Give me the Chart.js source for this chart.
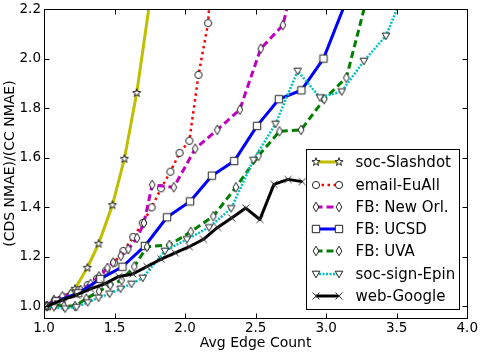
<!DOCTYPE html>
<html>
<head>
  <meta charset="utf-8">
  <title>CDS vs CC NMAE</title>
  <script src="https://cdn.jsdelivr.net/npm/chart.js"></script>
  <style>
    html, body { margin: 0; padding: 0; background: #fff; }
    #wrap { width: 482px; height: 354px; }
  </style>
</head>
<body>
  <div id="wrap"><canvas id="chart" width="482" height="354"></canvas></div>
  <script>
    // values
    var xTicks = [1.0, 1.5, 2.0, 2.5, 3.0, 3.5, 4.0];
    var yTicks = [1.0, 1.2, 1.4, 1.6, 1.8, 2.0, 2.2];

    var seriesNames = ['soc-Slashdot', 'email-EuAll', 'FB: New Orl.', 'FB: UCSD', 'FB: UVA', 'soc-sign-Epin', 'web-Google'];

    var slashdotX = [1.02, 1.13, 1.22, 1.307, 1.387, 1.485, 1.57, 1.657, 1.755];
    var slashdotY = [1.0, 1.03, 1.07, 1.155, 1.252, 1.408, 1.595, 1.861, 2.25];

    var emailX = [1.02, 1.08, 1.14, 1.2, 1.25, 1.31, 1.375, 1.44, 1.497, 1.563, 1.633, 1.70, 1.763, 1.83, 1.896, 1.961, 2.03, 2.095, 2.163, 2.23];
    var emailY = [1.0, 1.015, 1.035, 1.05, 1.065, 1.085, 1.11, 1.143, 1.175, 1.223, 1.279, 1.336, 1.399, 1.476, 1.543, 1.619, 1.668, 1.934, 2.143, 2.75];

    var newOrlX = [1.02, 1.07, 1.13, 1.19, 1.26, 1.33, 1.39, 1.45, 1.49, 1.544, 1.598, 1.66, 1.708, 1.767, 1.92, 2.072, 2.228, 2.388, 2.536, 2.693, 2.85];
    var newOrlY = [1.0, 1.025, 1.04, 1.05, 1.065, 1.09, 1.12, 1.154, 1.176, 1.203, 1.23, 1.275, 1.336, 1.49, 1.48, 1.636, 1.712, 1.794, 2.04, 2.135, 2.5];

    var ucsdX = [1.02, 1.086, 1.243, 1.399, 1.556, 1.715, 1.872, 2.035, 2.19, 2.348, 2.51, 2.665, 2.824, 2.981, 3.14];
    var ucsdY = [1.0, 1.02, 1.052, 1.11, 1.159, 1.243, 1.359, 1.423, 1.527, 1.586, 1.728, 1.836, 1.872, 2.0, 2.23];

    var uvaX = [1.02, 1.08, 1.14, 1.22, 1.30, 1.39, 1.47, 1.55, 1.64, 1.73, 1.889, 2.04, 2.2, 2.36, 2.52, 2.669, 2.822, 2.986, 3.143, 3.30];
    var uvaY = [1.0, 1.005, 1.0, 1.0, 1.03, 1.06, 1.085, 1.105, 1.16, 1.24, 1.247, 1.30, 1.363, 1.48, 1.607, 1.706, 1.712, 1.836, 1.923, 2.27];

    var epinX = [1.02, 1.07, 1.15, 1.23, 1.31, 1.387, 1.465, 1.543, 1.62, 1.70, 1.857, 2.013, 2.17, 2.327, 2.484, 2.641, 2.798, 2.955, 3.11, 3.267, 3.424, 3.58];
    var epinY = [1.0, 0.995, 0.99, 0.996, 1.015, 1.034, 1.05, 1.07, 1.09, 1.114, 1.223, 1.27, 1.318, 1.395, 1.59, 1.736, 1.95, 1.843, 1.867, 1.99, 2.092, 2.31];

    var googleX = [1.02, 1.13, 1.23, 1.33, 1.43, 1.53, 1.63, 1.73, 1.83, 1.93, 2.03, 2.13, 2.23, 2.33, 2.43, 2.53, 2.63, 2.73, 2.83];
    var googleY = [1.0, 1.025, 1.045, 1.07, 1.09, 1.12, 1.13, 1.16, 1.19, 1.215, 1.24, 1.27, 1.318, 1.356, 1.396, 1.35, 1.492, 1.512, 1.503];

    // small marker images (white fill, dark edge like the matplotlib markers)
    function markerCanvas(shape, noFill) {
      var c = document.createElement('canvas');
      c.width = 14; c.height = 14;
      var g = c.getContext('2d');
      g.translate(7, 7);
      g.lineWidth = 1;
      g.strokeStyle = noFill ? '#333' : '#222';
      g.fillStyle = '#fff';
      g.beginPath();
      shape(g);
      if (!noFill) g.fill();
      g.stroke();
      return c;
    }

    var starMark = markerCanvas(function (g) {
      for (var i = 0; i < 10; i++) {
        var r = i % 2 ? 1.7 : 4.3;
        var a = -Math.PI / 2 + i * Math.PI / 5;
        if (i === 0) g.moveTo(r * Math.cos(a), r * Math.sin(a));
        else g.lineTo(r * Math.cos(a), r * Math.sin(a));
      }
      g.closePath();
    });
    var circleMark = markerCanvas(function (g) { g.arc(0, 0, 3.6, 0, Math.PI * 2); });
    var diamondMark = markerCanvas(function (g) {
      g.moveTo(0, -4.8); g.lineTo(2.9, 0); g.lineTo(0, 4.8); g.lineTo(-2.9, 0); g.closePath();
    });
    var squareMark = markerCanvas(function (g) { g.rect(-3.7, -3.7, 7.4, 7.4); });
    var triMark = markerCanvas(function (g) {
      g.moveTo(-3.8, -2.8); g.lineTo(3.8, -2.8); g.lineTo(0, 3.8); g.closePath();
    });
    var xMark = markerCanvas(function (g) {
      g.moveTo(-3.5, -3.5); g.lineTo(3.5, 3.5); g.moveTo(-3.5, 3.5); g.lineTo(3.5, -3.5);
    }, true);

    function series(i, xs, ys, color, width, dash, marker) {
      return {
        label: seriesNames[i],
        data: xs.map(function (x, k) { return { x: x, y: ys[k] }; }),
        borderColor: color,
        backgroundColor: color,
        borderWidth: width,
        borderDash: dash,
        borderJoinStyle: 'round',
        pointStyle: marker,
        pointRadius: 4,
        pointHoverRadius: 4,
        tension: 0,
        clip: 0,
        order: 6 - i
      };
    }

    var datasets = [
      series(0, slashdotX, slashdotY, '#bfbf00', 3, [], starMark),
      series(1, emailX, emailY, '#ff0000', 2.5, [2.5, 3.5], circleMark),
      series(2, newOrlX, newOrlY, '#bf00bf', 3, [7, 4], diamondMark),
      series(3, ucsdX, ucsdY, '#0000ff', 3, [], squareMark),
      series(4, uvaX, uvaY, '#008000', 3, [7, 4], diamondMark),
      series(5, epinX, epinY, '#00bfbf', 2.5, [2, 1.5], triMark),
      series(6, googleX, googleY, '#000000', 3, [], xMark)
    ];

    // frame, inward ticks and the legend inside the axes
    var framePlugin = {
      id: 'framePlugin',
      afterDatasetsDraw: function (chart) {
        var ctx = chart.ctx, a = chart.chartArea;
        var x0 = Math.floor(a.left) + 0.5, x1 = Math.floor(a.right) + 0.5;
        var y0 = Math.floor(a.top) + 0.5, y1 = Math.floor(a.bottom) + 0.5;
        ctx.save();
        ctx.setLineDash([]);
        ctx.strokeStyle = '#000';
        ctx.lineWidth = 1;
        ctx.strokeRect(x0, y0, x1 - x0, y1 - y0);

        ctx.beginPath();
        xTicks.forEach(function (v) {
          var px = Math.round(chart.scales.x.getPixelForValue(v)) + 0.5;
          ctx.moveTo(px, y1); ctx.lineTo(px, y1 - 5);
          ctx.moveTo(px, y0); ctx.lineTo(px, y0 + 5);
        });
        yTicks.forEach(function (v) {
          var py = Math.round(chart.scales.y.getPixelForValue(v)) + 0.5;
          ctx.moveTo(x0, py); ctx.lineTo(x0 + 5, py);
          ctx.moveTo(x1, py); ctx.lineTo(x1 - 5, py);
        });
        ctx.stroke();

        // legend box
        var lw = 153, lh = 160;
        var lx = x1 - 8 - lw, ly = y1 - 9 - lh;
        ctx.fillStyle = '#fff';
        ctx.fillRect(lx, ly, lw, lh);
        ctx.strokeRect(lx, ly, lw, lh);

        var marks = [starMark, circleMark, diamondMark, squareMark, diamondMark, triMark, xMark];
        ctx.font = '15px "DejaVu Sans"';
        ctx.textBaseline = 'middle';
        datasets.forEach(function (ds, i) {
          var cy = Math.round(ly + 12.7 + i * 22.3);
          var ma = lx + 9, mb = lx + 32;
          ctx.beginPath();
          ctx.setLineDash(ds.borderDash);
          ctx.strokeStyle = ds.borderColor;
          ctx.lineWidth = ds.borderWidth;
          ctx.moveTo(ma, cy); ctx.lineTo(mb, cy);
          ctx.stroke();
          ctx.setLineDash([]);
          ctx.drawImage(marks[i], Math.round(ma - 7), cy - 7);
          ctx.drawImage(marks[i], Math.round(mb - 7), cy - 7);
          ctx.fillStyle = '#000';
          ctx.fillText(ds.label, lx + 49, cy + 1);
        });
        ctx.restore();
      }
    };

    var tickFont = { family: 'DejaVu Sans', size: 13.5, lineHeight: 0.9 };
    var titleFont = { family: 'DejaVu Sans', size: 14 };

    var chart = new Chart(document.getElementById('chart'), {
      type: 'line',
      data: { datasets: datasets },
      options: {
        responsive: false,
        animation: false,
        events: [],
        layout: { padding: { top: 6, right: 11, left: 0, bottom: 0 } },
        plugins: { legend: { display: false }, tooltip: { enabled: false } },
        scales: {
          x: {
            type: 'linear',
            min: 1.0,
            max: 4.0,
            afterBuildTicks: function (s) { s.ticks = xTicks.map(function (v) { return { value: v }; }); },
            afterFit: function (s) { s.height = 36; },
            grid: { display: false, drawTicks: false },
            border: { display: false },
            ticks: {
              color: '#000', font: tickFont, padding: 4, maxRotation: 0, autoSkip: false,
              callback: function (v) { return v.toFixed(1); }
            },
            title: { display: true, text: 'Avg Edge Count', color: '#000', font: titleFont, padding: { top: 2, bottom: 2 } }
          },
          y: {
            type: 'linear',
            min: 0.952,
            max: 2.2,
            afterBuildTicks: function (s) { s.ticks = yTicks.map(function (v) { return { value: v }; }); },
            afterFit: function (s) { s.width = 44; },
            grid: { display: false, drawTicks: false },
            border: { display: false },
            ticks: {
              color: '#000', font: tickFont, padding: 3, autoSkip: false,
              callback: function (v) { return v.toFixed(1); }
            },
            title: { display: true, text: '(CDS NMAE)/(CC NMAE)', color: '#000', font: titleFont, padding: { top: 2, bottom: 2 } }
          }
        }
      },
      plugins: [framePlugin]
    });
  </script>
</body>
</html>
